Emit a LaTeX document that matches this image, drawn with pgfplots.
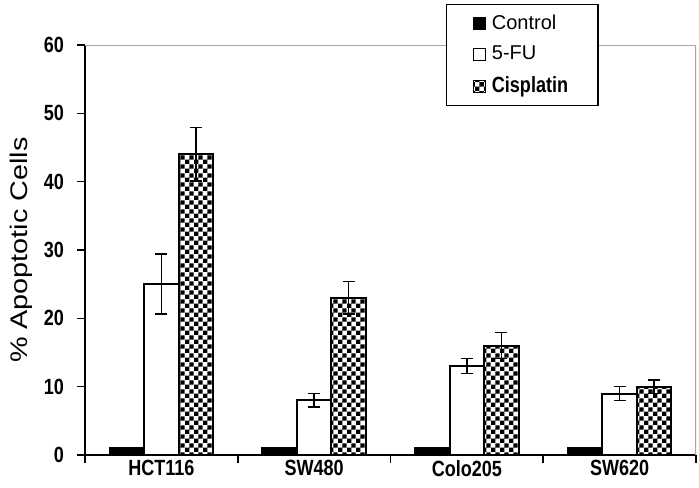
\documentclass[border=0pt]{standalone}
\usepackage{fontspec}
\setmainfont{Liberation Sans}
\newfontfamily\condfont[FakeStretch=0.82]{Liberation Sans}
\newfontfamily\widefont[FakeStretch=1.2]{Liberation Sans}
\usepackage{pgfplots}
\pgfplotsset{compat=1.18}
\usetikzlibrary{patterns}
\pgfdeclarepatternformonly{smallcheck}{\pgfpointorigin}{\pgfqpoint{4.4pt}{4.4pt}}{\pgfqpoint{4.4pt}{4.4pt}}{%
  \pgfpathrectangle{\pgfpointorigin}{\pgfqpoint{2.2pt}{2.2pt}}%
  \pgfpathrectangle{\pgfqpoint{2.2pt}{2.2pt}}{\pgfqpoint{2.2pt}{2.2pt}}%
  \pgfusepath{fill}}
\pgfplotsset{sqlegend/.style={legend image code/.code={\draw[##1,/tikz/.cd,line width=0.6pt] (0pt,-3pt) rectangle (6pt,3pt);}}}

\begin{document}
\begin{tikzpicture}
\begin{axis}[
  scale only axis, width=305.5pt, height=205pt,
  xmin=-0.5, xmax=3.5, ymin=0, ymax=60,
  ytick={0,10,...,60},
  xtick={0,1,2,3}, xticklabels={HCT116,SW480,Colo205,SW620},
  major x tick style={draw=none},
  minor xtick={-0.5,0.5,1.5,2.5,3.5},
  tick align=outside, major tick length=4pt, minor tick length=4pt,
  axis x line*=bottom, axis y line*=left,
  axis line style={line width=0.8pt}, tick style={line width=0.8pt, black},
  ybar=0pt, bar width=17.25pt,
  ylabel={\% Apoptotic Cells},
  ylabel style={font=\widefont\fontsize{12}{14}\selectfont, yshift=-1pt},
  tick label style={font=\condfont\bfseries\fontsize{11}{13}\selectfont},
  xticklabel style={yshift=5pt},
  yticklabel style={xshift=-3pt},
  /pgf/number format/assume math mode=true,
  legend style={at={(rel axis cs:0.591,1.1)}, anchor=north west, draw=black,
    line width=0.6pt, font=\fontsize{10}{12}\selectfont, row sep=3pt, column sep=1pt,
    inner xsep=13pt, inner ysep=3pt},
  legend cell align=left,
  every axis plot/.append style={draw=black, line width=1pt},
  error bars/error bar style={line width=0.8pt, black},
  error bars/error mark options={rotate=90, mark size=3pt, line width=0.8pt, black},
]
\addplot[fill=black, sqlegend]
  coordinates {(0,1) (1,1) (2,1) (3,1)};
\addplot[fill=white, sqlegend, error bars/.cd, y dir=both, y explicit]
  coordinates {(0,25) +- (0,4.4) (1,8) +- (0,1.0) (2,13) +- (0,1.1) (3,9) +- (0,1.0)};
\addplot[pattern=smallcheck, pattern color=black, sqlegend, error bars/.cd, y dir=both, y explicit]
  coordinates {(0,44) +- (0,3.9) (1,23) +- (0,2.4) (2,16) +- (0,1.9) (3,10) +- (0,1.0)};
\draw[gray!70, line width=0.6pt] (rel axis cs:0,1) -- (rel axis cs:1,1) -- (rel axis cs:1,0);
\legend{Control, 5-FU, {\condfont\bfseries\fontsize{11}{12}\selectfont Cisplatin}}
\end{axis}
\path (current axis.south west) ++(-42.5pt,-16pt) (current axis.north east) ++(1.5pt,22.5pt);
\end{tikzpicture}
\end{document}
